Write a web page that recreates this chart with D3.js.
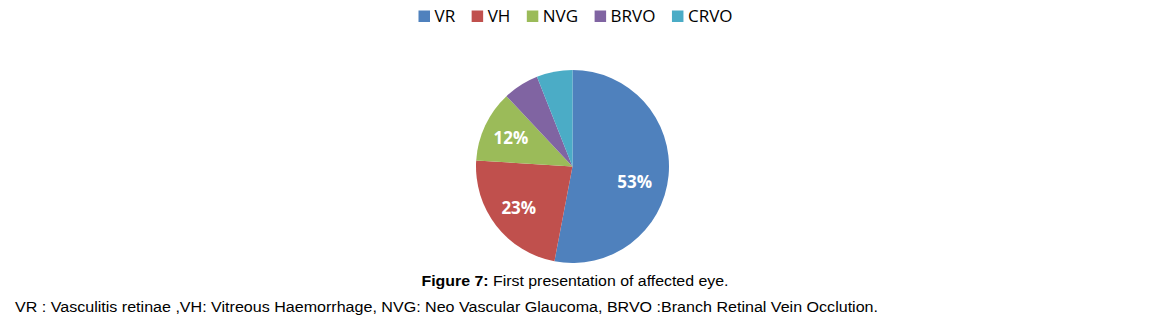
<!DOCTYPE html>
<html>
<head>
<meta charset="utf-8">
<script src="https://cdn.jsdelivr.net/npm/d3@7"></script>
<style>
  html, body { margin: 0; padding: 0; background: #fff; }
  svg { display: block; }
</style>
</head>
<body>
<svg id="chart" width="1151" height="326"></svg>
<script>
const categories = ["VR", "VH", "NVG", "BRVO", "CRVO"];
const values = [53, 23, 12, 6, 6];
const labels = ["53%", "23%", "12%", "", ""];
const colors = ["#4F81BD", "#C0504D", "#9BBB59", "#8064A2", "#4BACC6"];
const captionTitle = "Figure 7:";
const captionText = " First presentation of affected eye.";
const footnote = "VR : Vasculitis retinae ,VH: Vitreous Haemorrhage, NVG: Neo Vascular Glaucoma, BRVO :Branch Retinal Vein Occlution.";

const svg = d3.select("#chart");
const cx = 572.5, cy = 166.5, r = 96.5;

const data = categories.map((c, i) => ({ cat: c, value: values[i], label: labels[i], color: colors[i] }));
const pie = d3.pie().value(d => d.value).sort(null);
const arc = d3.arc().innerRadius(0).outerRadius(r);
const labelArc = d3.arc().innerRadius(68).outerRadius(68);

const g = svg.append("g").attr("transform", `translate(${cx},${cy})`);
const arcs = pie(data);
g.selectAll("path").data(arcs).join("path")
  .attr("d", arc)
  .attr("fill", d => d.data.color);

g.selectAll("text").data(arcs).join("text")
  .attr("transform", d => {
    // largest slice label sits a little lower (best-fit style)
    const mid = (d.startAngle + d.endAngle) / 2 + (d.index === 0 ? 0.15 : 0);
    const rr = d.index === 0 ? 64 : 68;
    return `translate(${Math.sin(mid) * rr},${-Math.cos(mid) * rr})`;
  })
  .attr("text-anchor", "middle")
  .attr("dy", "0.36em")
  .attr("fill", "#fff")
  .attr("font-family", "Open Sans, sans-serif")
  .attr("font-weight", "bold")
  .attr("font-size", 17)
  .text(d => d.data.label);

// Legend
const legend = svg.append("g");
let x = 418.5;
const ly = 16;
data.forEach(d => {
  legend.append("rect").attr("x", x).attr("y", ly - 5.5).attr("width", 11.5).attr("height", 11.5).attr("fill", d.color);
  const t = legend.append("text")
    .attr("x", x + 16).attr("y", ly).attr("dy", "0.36em")
    .attr("font-family", "Open Sans, sans-serif").attr("font-size", 17).attr("fill", "#000")
    .text(d.cat);
  const w = t.node().getComputedTextLength();
  x = x + 16 + w + 16.5;
});

// Caption
const cap = svg.append("text")
  .attr("x", 421.5).attr("y", 285.5)
  .attr("font-family", "Liberation Sans, Arial, sans-serif").attr("font-size", 15.5).attr("fill", "#000")
  .attr("textLength", 307).attr("lengthAdjust", "spacingAndGlyphs");
cap.append("tspan").attr("font-weight", "bold").text(captionTitle);
cap.append("tspan").text(captionText);

svg.append("text")
  .attr("x", 15).attr("y", 311.5)
  .attr("font-family", "Liberation Sans, Arial, sans-serif").attr("font-size", 15.5).attr("fill", "#000")
  .attr("textLength", 863).attr("lengthAdjust", "spacingAndGlyphs")
  .text(footnote);
</script>
</body>
</html>
